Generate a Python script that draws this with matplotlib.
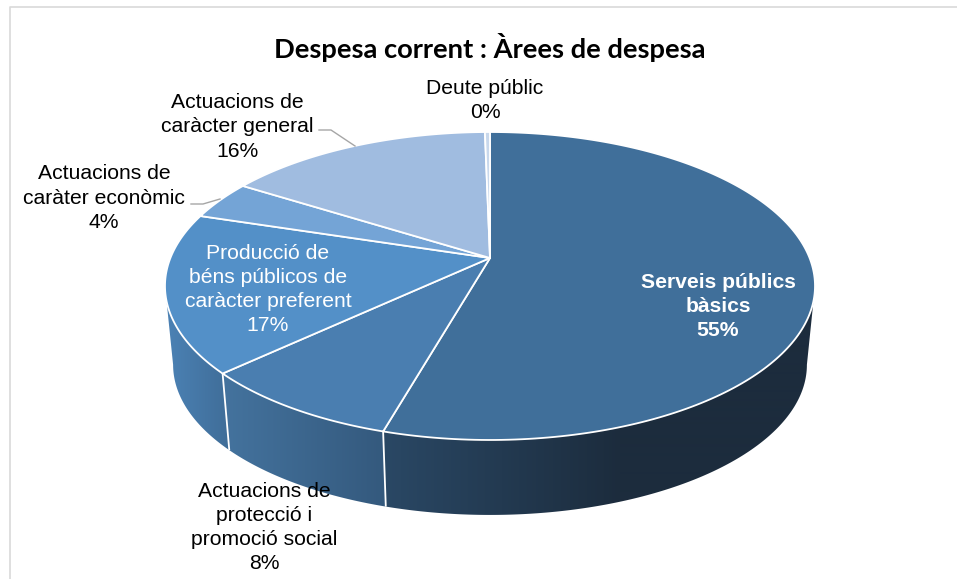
import matplotlib
matplotlib.use("Agg")
import matplotlib.pyplot as plt
import numpy as np
from matplotlib.colors import to_rgb
from matplotlib.patches import Polygon

title = "Despesa corrent : Àrees de despesa"
names = ["Serveis públics\nbàsics", "Actuacions de\nprotecció i\npromoció social",
         "Producció de\nbéns públicos de\ncaràcter preferent",
         "Actuacions de\ncaràter econòmic", "Actuacions de\ncaràcter general", "Deute públic"]
values = [54.45, 8.65, 16.7, 4.1, 15.8, 0.3]
shown = [55, 8, 17, 4, 16, 0]

top_colors = ["#406f9a", "#4a7eb0", "#5390c8", "#74a4d6", "#a0bce0", "#c8d8ec"]
# wall colour at the left and right side of each slice
wall_left = ["#2a4865", "#44739e", "#4c82b5", "#5d88b0", "#7d93b0", "#8899aa"]
wall_right = ["#1c2c3d", "#34597d", "#3f6d98", "#4d78a5", "#6f8cb0", "#8899aa"]

# label centres in pixels, text colour, weight
label_pos = [(718, 306.5), (264, 527.5), (268, 289.5), (104, 198), (237, 127), (485, 100.5)]
label_col = ["white", "black", "white", "black", "black", "black"]
label_wt = ["bold", "normal", "normal", "normal", "normal", "normal"]

# pie geometry (pixels), p is the perspective of the tilted disc
cx, cy = 490.0, 258.0
A, B, p = 319.6, 148.9, 0.1818
depth, shrink = 79.5, 0.975


def rim(theta, s=1.0, h=0.0):
    u, v = np.sin(theta), np.cos(theta)
    d = 1 + p * v
    return cx + s * A * u / d, cy + h - s * B * v / d


plt.rcParams["font.family"] = ["Liberation Sans", "DejaVu Sans"]
fig = plt.figure(figsize=(9.57, 5.79), dpi=100, facecolor="white")
ax = fig.add_axes([0, 0, 1, 1])

# chart frame
ax.plot([10, 10, 957], [579, 7, 7], color="#d9d9d9", lw=1.2)

edges = np.cumsum([0] + values) / sum(values) * 2 * np.pi
# the wall is only seen between the widest points of the disc
th_right = np.arccos(-p)
th_left = 2 * np.pi - th_right

# side wall, one clipped gradient image per slice
for i in range(len(values)):
    a, b = max(edges[i], th_right), min(edges[i + 1], th_left)
    if b <= a:
        continue
    th = np.linspace(a, b, 300)
    xt, yt = rim(th)
    xb, yb = rim(th, shrink, depth)
    x0, x1 = min(xt.min(), xb.min()), max(xt.max(), xb.max())
    if i == 0:
        x1 = 620  # darkest from here to the right
    px = np.arange(0, 957)
    t = np.clip((px - x0) / max(x1 - x0, 1), 0, 1)[None, :, None]
    c0, c1 = np.array(to_rgb(wall_left[i])), np.array(to_rgb(wall_right[i]))
    band = Polygon(np.c_[np.r_[xt, xb[::-1]], np.r_[yt, yb[::-1]]], closed=True,
                   facecolor="none", edgecolor="none", transform=ax.transData)
    ax.add_patch(band)
    im = ax.imshow(c0 + (c1 - c0) * t, extent=[0, 957, 579, 0], aspect="auto", zorder=2,
                   interpolation="bilinear")
    im.set_clip_path(band)

# white dividers on the wall
for e in edges:
    if th_right < e < th_left:
        xt, yt = rim(e)
        xb, yb = rim(e, shrink, depth)
        ax.plot([xt, xb], [yt, yb], color="white", lw=1.3, zorder=3, solid_capstyle="butt")

# top face
for i in range(len(values)):
    th = np.linspace(edges[i], edges[i + 1], 200)
    xt, yt = rim(th)
    ax.fill(np.r_[cx, xt], np.r_[cy, yt], facecolor=top_colors[i], edgecolor="white",
            lw=1.3, joinstyle="round", zorder=4)

# leader lines
ax.plot([319, 331, 355], [130, 130, 146], color="#a6a6a6", lw=1.0, zorder=5)
ax.plot([191, 203, 220], [204, 204, 199], color="#a6a6a6", lw=1.0, zorder=5)

for i in range(len(names)):
    ax.text(label_pos[i][0], label_pos[i][1], f"{names[i]}\n{shown[i]}%", ha="center", va="center",
            multialignment="center", fontsize=15.2, color=label_col[i], fontweight=label_wt[i],
            linespacing=1.34, zorder=6)

ax.text(490, 47, title, ha="center", va="center", fontsize=19.7, fontweight="bold",
        family=["Lato", "DejaVu Sans"], color="black", zorder=6)

ax.set_xlim(0, 957)
ax.set_ylim(579, 0)
ax.axis("off")

fig.savefig("out.png", dpi=100)
